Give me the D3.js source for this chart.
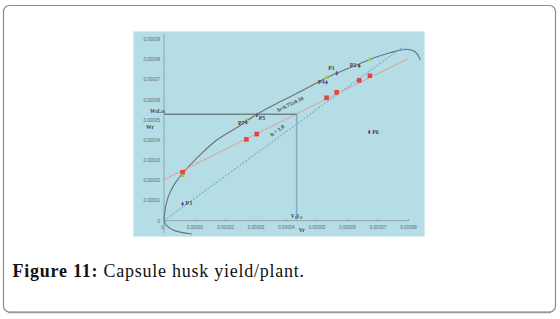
<!DOCTYPE html>
<html>
<head>
<meta charset="utf-8">
<script src="https://cdn.jsdelivr.net/npm/d3@7"></script>
<style>
  body { margin: 0; background: #fff; }
  svg { display: block; }
</style>
</head>
<body>
<div id="chart"></div>
<script>
(function() {
  var outerWidth = 560,
      outerHeight = 319;

  // Vr values of the seven parents
  const vr = [0.0000061, 0.000027, 0.0000304, 0.0000533, 0.0000566, 0.000064, 0.0000675];
  // Wr expected from regression line (red squares)
  const wrFit = [0.000024, 0.0000403, 0.0000429, 0.0000609, 0.0000636, 0.0000695, 0.0000718];
  // Wr on limiting parabola (green triangles)
  const wrPara = [0.0000223, 0.0000499, 0.0000523, 0.0000708, 0.000073, 0.0000767, 0.0000799];
  // observed parent points
  const parents = ["P3", "P7", "P5", "P4", "P1", "P2", "P6"];
  const parentVr = [0.0000061, 0.000027, 0.0000304, 0.0000533, 0.0000566, 0.000064, 0.0000673];
  const parentWr = [0.0000083, 0.0000487, 0.0000523, 0.0000685, 0.000073, 0.0000767, 0.0000439];
  // parabola
  const curveVr = [0.0000091, 0.000003, 0.0000003, 0.0000001, 0.0000014, 0.0000036, 0.0000061, 0.0000107,
                   0.0000173, 0.0000238, 0.0000304, 0.000038, 0.0000457, 0.0000533, 0.0000599, 0.0000675,
                   0.0000741, 0.0000796, 0.0000823, 0.0000841];
  const curveWr = [-0.0000066, -0.0000046, -0.0000013, 0.000002, 0.0000119, 0.0000185, 0.0000235, 0.0000309,
                   0.00004, 0.000046, 0.0000527, 0.0000589, 0.0000647, 0.0000708, 0.0000751, 0.0000799,
                   0.0000832, 0.0000849, 0.0000837, 0.0000796];
  const xTicks = [0, 0.00001, 0.00002, 0.00003, 0.00004, 0.00005, 0.00006, 0.00007, 0.00008];
  const yTicks = [0, 0.00001, 0.00002, 0.00003, 0.00004, 0.00005, 0.00006, 0.00007, 0.00008, 0.00009];
  const regA = 0.0000203, regB = 0.75;   // Wr = a + b Vr
  const unitB = 1.1, unitEnd = 0.0000783;
  const w0l01 = 0.0000527, v1l1 = 0.0000435;

  var svg = d3.select("#chart").append("svg")
      .attr("width", outerWidth)
      .attr("height", outerHeight);

  // figure box
  svg.append("rect")
      .attr("x", 3.5).attr("y", 5.5)
      .attr("width", 552).attr("height", 306.5)
      .attr("rx", 6).attr("ry", 6)
      .attr("fill", "#fff")
      .attr("stroke", "#8c8c8c")
      .attr("stroke-width", 1.2);
  svg.append("line")
      .attr("x1", 8).attr("x2", 551)
      .attr("y1", 312.5).attr("y2", 312.5)
      .attr("stroke", "#9a9a9a").attr("stroke-width", 1.5);

  // chart picture background
  svg.append("rect")
      .attr("x", 133.5).attr("y", 31.5)
      .attr("width", 291).attr("height", 205)
      .attr("fill", "#b5dde6")
      .attr("stroke", "#d6ecf0")
      .attr("stroke-width", 1);

  var x = d3.scaleLinear().domain([0, 0.00008]).range([164, 408]);
  var y = d3.scaleLinear().domain([0, 0.00009]).range([220.7, 39]);

  var fmt = d => d === 0 ? "0" : d.toFixed(5);

  var plot = svg.append("g");

  // axes
  var xAxis = plot.append("g")
      .attr("transform", "translate(0," + y(0) + ")")
      .call(d3.axisBottom(x).tickValues(xTicks).tickFormat(fmt).tickSize(-1.5).tickPadding(5));
  var yAxis = plot.append("g")
      .attr("transform", "translate(" + x(0) + ",0)")
      .call(d3.axisLeft(y).tickValues(yTicks).tickFormat(fmt).tickSize(0).tickPadding(4));

  [xAxis, yAxis].forEach(function(a) {
    a.select(".domain").attr("stroke", "#8fa3a8").attr("stroke-width", 1);
    a.selectAll(".tick line").attr("stroke", "#8fa3a8");
    a.selectAll("text")
        .attr("fill", "#5a6a6e")
        .attr("font-family", "Liberation Sans, sans-serif")
        .attr("font-size", "4.6px");
  });
  xAxis.select(".domain").attr("d", "M" + x(0) + ",0H" + (x(0.00008) + 1));
  yAxis.select(".domain").attr("d", "M0,34V" + (y(0) + 12));
  xAxis.selectAll(".tick").filter(d => d === 0).select("text").attr("dx", "-2");
  xAxis.selectAll(".tick").filter(d => d === 0).select("line").remove();

  // limiting parabola
  var curveData = curveVr.map((v, i) => [v, curveWr[i]]);
  plot.append("path")
      .datum(curveData)
      .attr("d", d3.line().x(d => x(d[0])).y(d => y(d[1])).curve(d3.curveCatmullRom))
      .attr("fill", "none")
      .attr("stroke", "#6b7275")
      .attr("stroke-width", 1.1);

  // unit slope line
  plot.append("line")
      .attr("x1", x(0)).attr("y1", y(0))
      .attr("x2", x(unitEnd)).attr("y2", y(unitB * unitEnd))
      .attr("stroke", "#5a8fd6")
      .attr("stroke-width", 0.9)
      .attr("stroke-dasharray", "2,1.6");

  // regression line
  plot.append("line")
      .attr("x1", x(0)).attr("y1", y(regA))
      .attr("x2", x(0.00008)).attr("y2", y(regA + regB * 0.00008))
      .attr("stroke", "#e49a98")
      .attr("stroke-width", 1);

  // W0L01 / V1L1 guide lines
  plot.append("line")
      .attr("x1", x(v1l1)).attr("x2", x(v1l1))
      .attr("y1", y(w0l01)).attr("y2", y(0) - 1)
      .attr("stroke", "#86adc6")
      .attr("stroke-width", 1.6);
  plot.append("line")
      .attr("x1", x(0)).attr("x2", x(v1l1))
      .attr("y1", y(w0l01)).attr("y2", y(w0l01))
      .attr("stroke", "#6f8284")
      .attr("stroke-width", 1.6);

  // red squares
  plot.append("g").selectAll("rect")
      .data(vr.map((v, i) => [v, wrFit[i]]))
    .enter().append("rect")
      .attr("x", d => x(d[0]) - 2.3)
      .attr("y", d => y(d[1]) - 2.3)
      .attr("width", 4.6).attr("height", 4.6)
      .attr("fill", "#e5443c");

  // green triangles
  plot.append("g").selectAll("path")
      .data(vr.map((v, i) => [v, wrPara[i]]))
    .enter().append("path")
      .attr("transform", d => "translate(" + x(d[0]) + "," + y(d[1]) + ")")
      .attr("d", d3.symbol(d3.symbolTriangle, 9))
      .attr("fill", "#a9c23f");

  // parent points
  var pts = plot.append("g").selectAll("g")
      .data(parents.map((p, i) => ({ name: p, vr: parentVr[i], wr: parentWr[i] })))
    .enter().append("g")
      .attr("transform", d => "translate(" + x(d.vr) + "," + y(d.wr) + ")");
  pts.append("path")
      .attr("d", d3.symbol(d3.symbolDiamond, 7))
      .attr("fill", "#6a3fb0");

  var labelPos = {
    P3: [3, 1.5, "start"], P7: [-2, 3, "end"], P5: [2, 5, "start"], P4: [-2, 1.5, "end"],
    P1: [-2, -3, "end"], P2: [-3, 1.5, "end"], P6: [3, 1.5, "start"]
  };
  pts.append("text")
      .attr("x", d => labelPos[d.name][0])
      .attr("y", d => labelPos[d.name][1])
      .attr("text-anchor", d => labelPos[d.name][2])
      .attr("font-family", "Liberation Serif, serif")
      .attr("font-weight", "bold")
      .attr("font-size", "5.8px")
      .attr("fill", "#3a4548")
      .text(d => d.name);

  // annotations
  var ann = plot.append("g")
      .attr("font-family", "Liberation Serif, serif")
      .attr("font-size", "5.5px")
      .attr("font-weight", "bold")
      .attr("fill", "#3a4548");

  var wLabel = ann.append("text").attr("x", 150).attr("y", y(w0l01) - 1.5);
  wLabel.append("tspan").text("W");
  wLabel.append("tspan").attr("font-size", "4px").text("0");
  wLabel.append("tspan").text("L");
  wLabel.append("tspan").attr("font-size", "4px").text("01");

  var vLabel = ann.append("text").attr("x", x(v1l1) - 6).attr("y", y(0) - 3);
  vLabel.append("tspan").text("V");
  vLabel.append("tspan").attr("font-size", "4px").attr("dy", 1).text("1");
  vLabel.append("tspan").attr("dy", -1).text("L");
  vLabel.append("tspan").attr("font-size", "4px").attr("dy", 1).text("1");

  ann.append("text").attr("x", 146).attr("y", y(0.0000455)).text("Wr");
  ann.append("text").attr("x", x(v1l1) + 2).attr("y", y(0) + 11).text("Vr");

  var angReg = Math.atan2(y(regA + regB * 0.00001) - y(regA), x(0.00001) - x(0)) * 180 / Math.PI;
  ann.append("text")
      .attr("transform", "translate(" + x(0.0000375) + "," + y(0.0000538) + ") rotate(" + angReg + ")")
      .text("b=0.75±0.10");
  var angUnit = Math.atan2(y(unitB * 0.00001) - y(0), x(0.00001) - x(0)) * 180 / Math.PI;
  ann.append("text")
      .attr("transform", "translate(" + x(0.0000354) + "," + y(0.0000416) + ") rotate(" + angUnit + ")")
      .text("b = 1.0");

  // caption
  var caption = svg.append("text")
      .attr("x", 12.5)
      .attr("y", 277)
      .attr("font-family", "Liberation Serif, serif")
      .attr("font-size", "18px")
      .attr("letter-spacing", "0.75px")
      .attr("fill", "#111");
  caption.append("tspan").attr("font-weight", "bold").text("Figure 11:");
  caption.append("tspan").text(" Capsule husk yield/plant.");
})();
</script>
</body>
</html>
